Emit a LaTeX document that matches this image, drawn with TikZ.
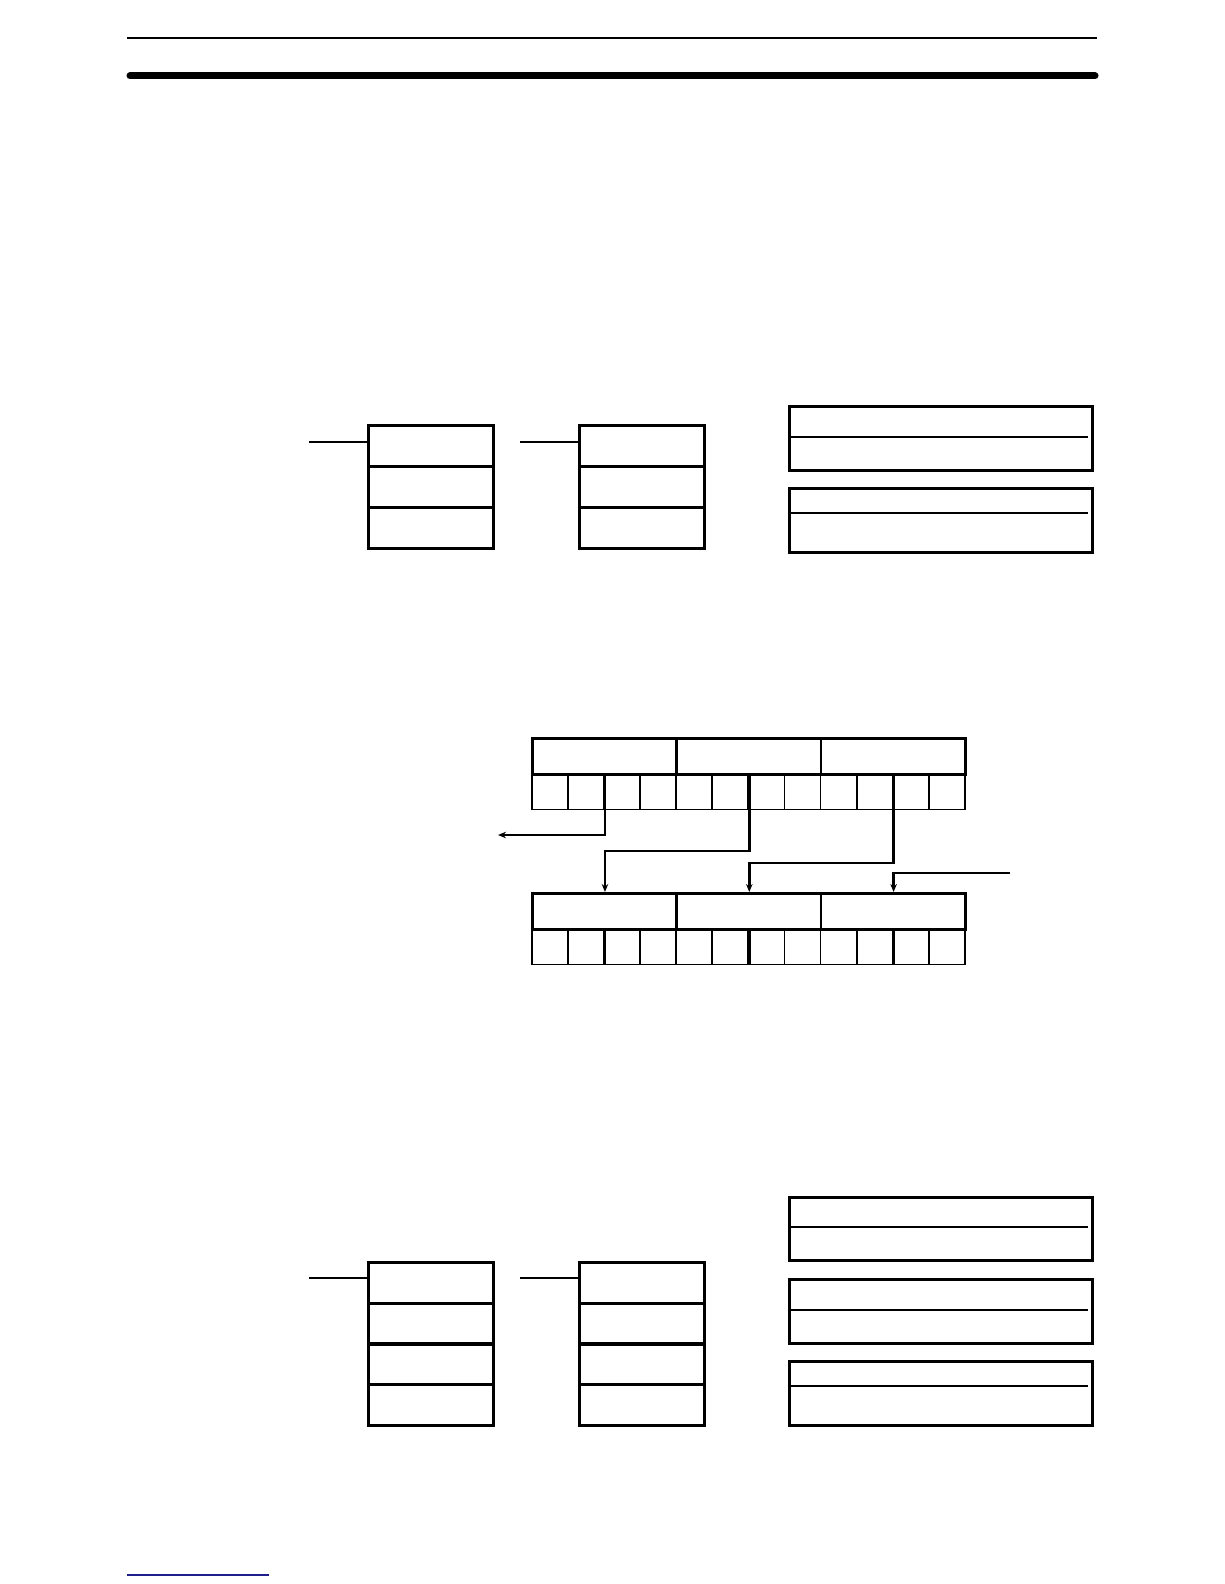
\documentclass[tikz,border=0pt]{standalone}
\usetikzlibrary{arrows.meta}
\definecolor{rulblue}{RGB}{30,30,140}
\tikzset{
  cellbox/.style={draw, line width=2.6pt, inner sep=0pt, anchor=north west, minimum width=125pt, minimum height=41pt},
  wide/.style={draw, line width=2.6pt, inner sep=0pt, anchor=north west, minimum width=303pt, minimum height=64pt},
  grp/.style={draw, line width=2.6pt, inner sep=0pt, anchor=north west, minimum width=144.33pt, minimum height=36pt},
  bit/.style={draw, line width=1.8pt, inner sep=0pt, anchor=north west, minimum width=36.08pt, minimum height=35.5pt},
  lead/.style={line width=2.6pt},
  inner/.style={line width=2.6pt},
  flow/.style={line width=2.6pt, -{Stealth[length=8pt,width=6.5pt]}},
}
\begin{document}
\begin{tikzpicture}[x=1pt,y=-1pt]
\useasboundingbox (0,0) rectangle (1224,1584);
% header rules
\coordinate (h1a) at (127,37.7); \coordinate (h1b) at (1097,37.7);
\draw[line width=2pt] (h1a) -- (h1b);
\coordinate (h2a) at (130,76); \coordinate (h2b) at (1095,76);
\draw[line width=7pt, line cap=round] (h2a) -- (h2b);
% footer rule
\coordinate (f1a) at (127,1575); \coordinate (f1b) at (269,1575);
\draw[rulblue, line width=1.6pt] (f1a) -- (f1b);

% ===== top section =====
\foreach \i/\y in {1/424,2/465,3/506} {
  \node[cellbox] (ta\i) at (367,\y) {};
  \node[cellbox] (tb\i) at (578,\y) {};
}
\coordinate (tla) at (309,442); \coordinate (tlb) at (520,442);
\draw[lead] (tla) -- (tla -| ta1.west);
\draw[lead] (tlb) -- (tlb -| tb1.west);
\node[wide] (tr1) at (788,405) {};
\node[wide] (tr2) at (788,487) {};
\draw[inner] (791,437) -- (1088,437);
\draw[inner] (791,513) -- (1088,513);

% ===== middle section =====
\foreach \g in {0,1,2} {
  \node[grp] (ug\g) at ({531+144.33*\g},737) {};
  \node[grp] (lg\g) at ({531+144.33*\g},892) {};
}
\foreach \c in {0,...,11} {
  \node[bit] (uc\c) at ({531+36.08*\c},773) {};
  \node[bit] (lc\c) at ({531+36.08*\c},928) {};
}
% heavier dividers where the connectors start
\foreach \c in {1,5,9} {
  \draw[line width=2.6pt] (uc\c.north east) -- (uc\c.south east);
  \draw[line width=2.6pt] (lc\c.north east) -- (lc\c.south east);
}
\coordinate (outL) at (498,835);
\coordinate (inR) at (1010,873);
\coordinate (k2) at (0,851);
\coordinate (k3) at (0,863);
\draw[flow] (uc1.south east) |- (outL);
\draw[flow] (uc5.south east) -- (uc5.south east |- k2) -| (lc1.north east |- lg0.north);
\draw[flow] (uc9.south east) -- (uc9.south east |- k3) -| (lc5.north east |- lg1.north);
\draw[flow] (inR) -| (lc9.north east |- lg2.north);

% ===== bottom section =====
\foreach \i/\y in {1/1261,2/1302,3/1342,4/1383} {
  \node[cellbox] (ba\i) at (367,\y) {};
  \node[cellbox] (bb\i) at (578,\y) {};
}
\coordinate (bla) at (309,1278); \coordinate (blb) at (520,1278);
\draw[lead] (bla) -- (bla -| ba1.west);
\draw[lead] (blb) -- (blb -| bb1.west);
\node[wide, minimum height=63pt] (br1) at (788,1196) {};
\node[wide] (br2) at (788,1278) {};
\node[wide] (br3) at (788,1360) {};
\draw[inner] (791,1227) -- (1088,1227);
\draw[inner] (791,1310) -- (1088,1310);
\draw[inner] (791,1386) -- (1088,1386);
\end{tikzpicture}
\end{document}
